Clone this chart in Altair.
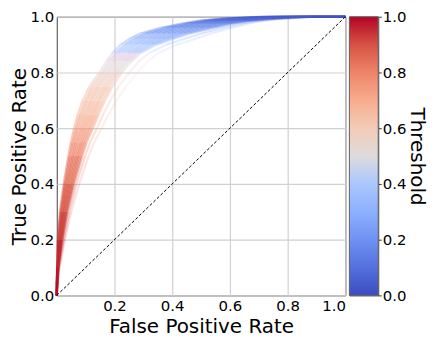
import altair as alt
import pandas as pd

# --- data ---
tpr_levels = [0.0, 0.05, 0.1, 0.2, 0.3, 0.4, 0.5, 0.55, 0.6, 0.65, 0.7, 0.75, 0.8, 0.84,
              0.87, 0.9, 0.92, 0.94, 0.96, 0.975, 0.985, 0.993, 1.0, 1.0]
thresholds = [1.0, 0.99, 0.98, 0.95, 0.91, 0.87, 0.82, 0.78, 0.74, 0.70, 0.66, 0.61, 0.55, 0.48,
              0.42, 0.36, 0.30, 0.25, 0.20, 0.15, 0.10, 0.06, 0.03, 0.0]

fpr_c1 = [0, 0.000, 0.001, 0.003, 0.011, 0.024, 0.040, 0.049, 0.060, 0.073, 0.090, 0.113, 0.148, 0.172,
          0.193, 0.222, 0.250, 0.290, 0.360, 0.430, 0.490, 0.570, 0.700, 1.0]
fpr_c2 = [0, 0.000, 0.002, 0.005, 0.014, 0.028, 0.045, 0.055, 0.067, 0.081, 0.099, 0.122, 0.157, 0.181,
          0.204, 0.236, 0.267, 0.309, 0.380, 0.449, 0.509, 0.589, 0.720, 1.0]
fpr_c3 = [0, 0.000, 0.002, 0.007, 0.017, 0.032, 0.051, 0.061, 0.074, 0.089, 0.107, 0.131, 0.165, 0.191,
          0.214, 0.249, 0.283, 0.327, 0.400, 0.469, 0.529, 0.609, 0.741, 1.0]
fpr_c4 = [0, 0.001, 0.003, 0.009, 0.020, 0.036, 0.056, 0.067, 0.082, 0.097, 0.116, 0.140, 0.174, 0.200,
          0.225, 0.263, 0.300, 0.347, 0.420, 0.488, 0.548, 0.628, 0.762, 1.0]
fpr_c5 = [0, 0.001, 0.003, 0.011, 0.022, 0.040, 0.061, 0.073, 0.089, 0.105, 0.124, 0.148, 0.182, 0.210,
          0.236, 0.276, 0.317, 0.366, 0.440, 0.508, 0.568, 0.648, 0.782, 1.0]
fpr_c6 = [0, 0.001, 0.004, 0.013, 0.025, 0.044, 0.067, 0.080, 0.096, 0.113, 0.133, 0.158, 0.191, 0.220,
          0.247, 0.291, 0.334, 0.385, 0.461, 0.528, 0.588, 0.668, 0.804, 1.0]
fpr_c7 = [0, 0.001, 0.004, 0.014, 0.028, 0.048, 0.072, 0.086, 0.103, 0.121, 0.142, 0.167, 0.200, 0.230,
          0.258, 0.304, 0.350, 0.404, 0.480, 0.547, 0.607, 0.687, 0.824, 1.0]
fpr_c8 = [0, 0.002, 0.005, 0.016, 0.031, 0.052, 0.077, 0.092, 0.111, 0.129, 0.150, 0.175, 0.209, 0.239,
          0.269, 0.318, 0.367, 0.423, 0.500, 0.567, 0.627, 0.707, 0.844, 1.0]
fpr_c9 = [0, 0.002, 0.005, 0.018, 0.034, 0.056, 0.083, 0.098, 0.118, 0.137, 0.159, 0.184, 0.217, 0.248,
          0.279, 0.331, 0.383, 0.441, 0.520, 0.586, 0.646, 0.726, 0.865, 1.0]
fpr_c10 = [0, 0.002, 0.006, 0.020, 0.037, 0.060, 0.088, 0.104, 0.125, 0.145, 0.167, 0.193, 0.226, 0.258,
           0.290, 0.345, 0.400, 0.460, 0.540, 0.605, 0.665, 0.745, 0.885, 1.0]
fpr_c11 = [0, 0.003, 0.008, 0.024, 0.043, 0.068, 0.098, 0.116, 0.139, 0.161, 0.186, 0.215, 0.252, 0.285,
           0.320, 0.380, 0.440, 0.500, 0.575, 0.635, 0.690, 0.765, 0.895, 1.0]
fpr_c12 = [0, 0.004, 0.010, 0.028, 0.050, 0.078, 0.110, 0.130, 0.155, 0.180, 0.207, 0.240, 0.280, 0.315,
           0.352, 0.415, 0.478, 0.535, 0.605, 0.660, 0.712, 0.785, 0.905, 1.0]

fpr_curves = [fpr_c1, fpr_c2, fpr_c3, fpr_c4, fpr_c5, fpr_c6,
              fpr_c7, fpr_c8, fpr_c9, fpr_c10, fpr_c11, fpr_c12]
curve_alpha = [0.5, 0.65, 0.65, 0.65, 0.65, 0.65, 0.65, 0.65, 0.6, 0.5, 0.28, 0.18]

diag = [0.0, 1.0]
tick_vals = [0.0, 0.2, 0.4, 0.6, 0.8, 1.0]
x_tick_vals = [0.2, 0.4, 0.6, 0.8, 1.0]

# coolwarm colour stops
cw_pos = [0.0, 0.1, 0.2, 0.3, 0.4, 0.5, 0.6, 0.7, 0.8, 0.9, 1.0]
cw_col = ["#3b4cc0", "#5470de", "#6f91f2", "#8db0fe", "#aac7fd", "#dddcdc",
          "#f2cbb7", "#f7ac8e", "#ee8468", "#d65244", "#b40426"]

rows = []
for k, f in enumerate(fpr_curves):
    for i in range(len(f) - 1):
        rows.append({"curve": k, "x": f[i], "y": tpr_levels[i],
                     "x2": f[i + 1], "y2": tpr_levels[i + 1],
                     "thr": (thresholds[i] + thresholds[i + 1]) / 2,
                     "a": curve_alpha[k]})
seg = pd.DataFrame(rows)
diag_df = pd.DataFrame({"x": diag, "y": diag})
cb_df = pd.DataFrame({"lo": [0.0], "hi": [1.0]})

FONT = "DejaVu Sans"
W, H = 290, 280

xs = alt.Scale(domain=[0, 1], nice=False)
ys = alt.Scale(domain=[0, 1], nice=False)

x_axis = alt.Axis(values=x_tick_vals, format=".1f", title="False Positive Rate",
                  ticks=False, domain=False, labelFontSize=15, titleFontSize=20,
                  labelPadding=3, titlePadding=3, gridColor="#d0d0d0", gridWidth=1.2,
                  labelColor="black", titleColor="black", titleFontWeight="normal")
y_axis = alt.Axis(values=tick_vals, format=".1f", title="True Positive Rate",
                  ticks=False, domain=False, labelFontSize=15, titleFontSize=20,
                  labelPadding=3, titlePadding=1, gridColor="#d0d0d0", gridWidth=1.2,
                  labelColor="black", titleColor="black", titleFontWeight="normal")

curves = alt.Chart(seg).mark_rule(strokeWidth=2.2).encode(
    x=alt.X("x:Q", scale=xs, axis=x_axis),
    y=alt.Y("y:Q", scale=ys, axis=y_axis),
    x2="x2:Q",
    y2="y2:Q",
    color=alt.Color("thr:Q", scale=alt.Scale(domain=cw_pos, range=cw_col), legend=None),
    opacity=alt.Opacity("a:Q", scale=None, legend=None),
    detail="curve:N",
)

diag_line = alt.Chart(diag_df).mark_line(color="black", strokeWidth=1, strokeDash=[3, 2]).encode(
    x=alt.X("x:Q", scale=xs),
    y=alt.Y("y:Q", scale=ys),
)

main = alt.layer(curves, diag_line).properties(width=W, height=H)

grad = alt.LinearGradient(
    gradient="linear",
    stops=[alt.GradientStop(offset=p, color=c) for p, c in zip(cw_pos, cw_col)],
    x1=0, x2=0, y1=1, y2=0,
)

colorbar = alt.Chart(cb_df).mark_rect(color=grad, stroke="#666", strokeWidth=1).encode(
    x=alt.value(0),
    x2=alt.value(29),
    y=alt.Y("lo:Q", scale=alt.Scale(domain=[0, 1], nice=False),
            axis=alt.Axis(orient="right", values=tick_vals, format=".1f", title="Threshold",
                          grid=False, domain=False, ticks=True, tickSize=3, tickColor="#333",
                          labelFontSize=15, titleFontSize=20, labelPadding=1, titlePadding=1,
                          labelColor="black", titleColor="black", titleFontWeight="normal",
                          titleAngle=90)),
    y2="hi:Q",
).properties(width=29, height=H)

chart = alt.hconcat(main, colorbar, spacing=0).configure(
    font=FONT, padding=0
).configure_view(stroke="#444", strokeWidth=1).configure_axis(labelFont=FONT, titleFont=FONT)

chart.save("out.html", embed_options={"renderer": "svg", "actions": False})
